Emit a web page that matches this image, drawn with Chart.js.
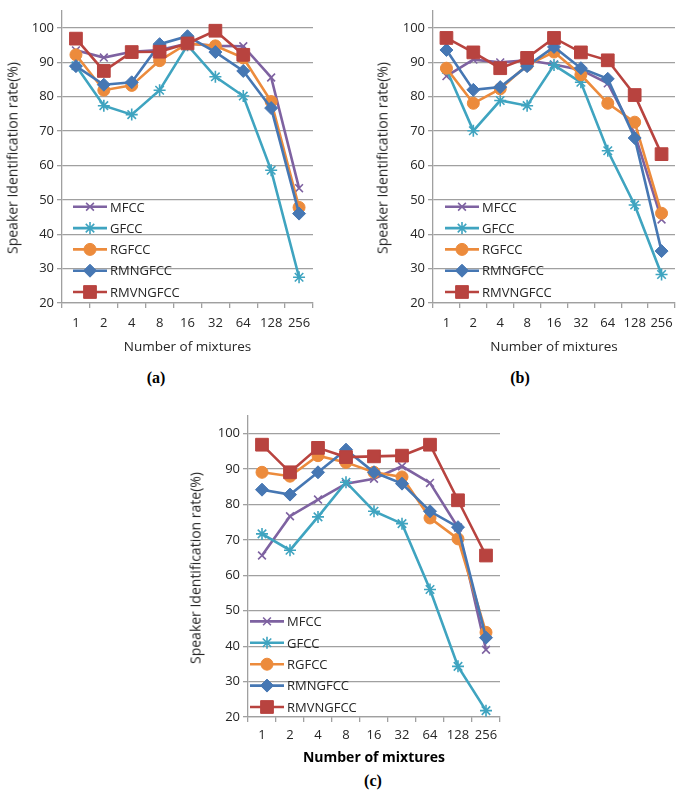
<!DOCTYPE html>
<html>
<head>
<meta charset="utf-8">
<script src="https://cdn.jsdelivr.net/npm/chart.js@4"></script>
<style>
html, body { margin: 0; padding: 0; background: #fff; overflow: hidden; width: 685px; height: 794px; }
canvas { position: absolute; }
.cap { position: absolute; font: bold 16px "Liberation Serif", "DejaVu Serif", serif; color: #000; transform: translate(-50%, -50%); }
.ytitle { position: absolute; white-space: nowrap; font: 14px "Open Sans", "Liberation Sans", sans-serif; color: #262626; transform: translate(-50%, -50%) rotate(-90deg); }
</style>
</head>
<body>
<canvas id="chartA" width="342" height="359" style="left:0;top:0"></canvas>
<canvas id="chartB" width="343" height="359" style="left:342px;top:0"></canvas>
<canvas id="chartC" width="340" height="370" style="left:170px;top:400px"></canvas>
<div class="ytitle" style="left:12px;top:158px">Speaker Identification rate(%)</div>
<div class="ytitle" style="left:382px;top:158px">Speaker Identification rate(%)</div>
<div class="ytitle" style="left:195px;top:568px">Speaker Identification rate(%)</div>
<div class="cap" style="left:156px;top:378px">(a)</div>
<div class="cap" style="left:520px;top:378px">(b)</div>
<div class="cap" style="left:373px;top:781px">(c)</div>
<script>
const mixtures = ["1", "2", "4", "8", "16", "32", "64", "128", "256"];
const seriesNames = ["MFCC", "GFCC", "RGFCC", "RMNGFCC", "RMVNGFCC"];
const yMin = 20, yMax = 100, yStep = 10;

// (a)
const mfccA     = [93.5, 91.4, 93.1, 93.6, 95.5, 94.8, 94.7, 85.6, 53.4];
const gfccA     = [89.0, 77.4, 74.8, 81.9, 95.0, 85.8, 80.2, 58.6, 27.5];
const rgfccA    = [92.2, 81.9, 83.3, 90.5, 95.5, 94.8, 91.3, 78.6, 47.8];
const rmngfccA  = [88.9, 83.5, 84.2, 95.3, 97.6, 93.0, 87.5, 76.7, 46.0];
const rmvngfccA = [96.9, 87.5, 93.0, 93.1, 95.5, 99.2, 92.2, null, null];

// (b)
const mfccB     = [86.0, 90.8, 90.0, 90.6, 89.4, 87.8, 83.9, 69.2, 44.3];
const gfccB     = [88.0, 70.1, 78.9, 77.4, 89.2, 84.2, 64.3, 48.5, 28.3];
const rgfccB    = [88.3, 78.1, 82.3, 89.2, 93.0, 86.4, 78.1, 72.6, 46.1];
const rmngfccB  = [93.6, 82.0, 82.8, 88.9, 94.5, 88.3, 85.2, 68.0, 35.1];
const rmvngfccB = [97.1, 92.9, 88.3, 91.3, 97.1, 92.9, 90.6, 80.5, 63.3];

// (c)
const mfccC     = [65.6, 76.7, 81.4, 85.9, 87.3, 90.8, 86.1, 73.5, 39.0];
const gfccC     = [71.7, 67.1, 76.5, 86.3, 78.1, 74.6, 56.0, 34.3, 21.8];
const rgfccC    = [89.1, 88.0, 93.8, 91.9, 89.1, 87.8, 76.2, 70.3, 43.9];
const rmngfccC  = [84.2, 82.8, 89.1, 95.5, 89.1, 85.9, 78.1, 73.6, 42.4];
const rmvngfccC = [96.9, 89.1, 96.0, 93.4, 93.6, 93.8, 96.9, 81.2, 65.6];

// series look
const lineColors = ["#7E62A1", "#3FA4C0", "#EC8B3C", "#4677B3", "#B8433F"];
const markerStyles = ["crossRot", "star", "circle", "rectRot", "rect"];
const markerRadius = [5.5, 6, 6, 6.5, 9];
const gridColor = "#A0A0A0";
const textColor = "#262626";
const fontFamily = "'Open Sans', 'Liberation Sans', sans-serif";

// legend drawn inside the plot, lower left
const insideLegend = {
    id: "insideLegend",
    afterDraw(chart, args, opts) {
        const ctx = chart.ctx;
        const area = chart.chartArea;
        const n = chart.data.datasets.length;
        ctx.save();
        chart.data.datasets.forEach((ds, i) => {
            const y = area.bottom - opts.bottom - (n - 1 - i) * opts.spacing;
            const x0 = area.left + opts.left;
            ctx.strokeStyle = ds.borderColor;
            ctx.fillStyle = ds.borderColor;
            ctx.lineWidth = ds.borderWidth;
            ctx.beginPath();
            ctx.moveTo(x0, y);
            ctx.lineTo(x0 + 34, y);
            ctx.stroke();
            ctx.lineWidth = ds.pointBorderWidth;
            Chart.helpers.drawPoint(ctx, {
                pointStyle: ds.pointStyle,
                radius: ds.pointRadius,
                rotation: 0,
                borderWidth: ds.pointBorderWidth
            }, x0 + 17, y);
            ctx.fillStyle = textColor;
            ctx.font = "13px " + fontFamily;
            ctx.textBaseline = "middle";
            ctx.textAlign = "left";
            ctx.fillText(ds.label, x0 + 37, y + 1);
        });
        ctx.restore();
    }
};

function makeChart(id, values, cfg) {
    const datasets = values.map((vals, i) => ({
        label: seriesNames[i],
        data: vals,
        borderColor: lineColors[i],
        backgroundColor: lineColors[i],
        borderWidth: 2.6,
        pointStyle: markerStyles[i],
        pointRadius: markerRadius[i],
        pointHoverRadius: markerRadius[i],
        pointBorderWidth: (i < 2) ? 1.6 : 1,
        order: values.length - 1 - i,
        tension: 0
    }));
    new Chart(document.getElementById(id), {
        type: "line",
        data: { labels: mixtures, datasets: datasets },
        options: {
            responsive: false,
            animation: false,
            events: [],
            layout: { padding: cfg.padding },
            plugins: {
                legend: { display: false },
                tooltip: { enabled: false },
                insideLegend: cfg.legend
            },
            scales: {
                x: {
                    offset: true,
                    grid: { offset: true, drawOnChartArea: false, drawTicks: true, tickLength: 5, color: gridColor, lineWidth: 1.3 },
                    border: { color: gridColor, width: 1.3 },
                    ticks: { color: textColor, font: { family: fontFamily, size: 13 }, padding: cfg.xPad, maxRotation: 0, autoSkip: false },
                    title: {
                        display: true,
                        text: "Number of mixtures",
                        color: cfg.titleBold ? "#000" : textColor,
                        font: { family: fontFamily, size: cfg.titleBold ? 14 : 13.5, weight: cfg.titleBold ? "bold" : "normal" }
                    },
                    afterFit: (s) => { s.height = cfg.xHeight; }
                },
                y: {
                    min: yMin,
                    max: yMax + 5,
                    ticks: { stepSize: yStep, color: textColor, font: { family: fontFamily, size: 13 }, padding: 3 },
                    grid: { color: gridColor, lineWidth: 1.3, tickLength: 5 },
                    border: { color: gridColor, width: 1.3 },
                    afterBuildTicks: (s) => { s.ticks = s.ticks.filter(t => t.value <= yMax); },
                    afterFit: (s) => { s.width = cfg.yWidth; }
                }
            }
        },
        plugins: [insideLegend]
    });
}

makeChart("chartA", [mfccA, gfccA, rgfccA, rmngfccA, rmvngfccA], {
    padding: { left: 0, right: 29, top: 1, bottom: 0 },
    yWidth: 62, xHeight: 56, xPad: 7,
    legend: { left: 11, bottom: 11, spacing: 21.3 }
});
makeChart("chartB", [mfccB, gfccB, rgfccB, rmngfccB, rmvngfccB], {
    padding: { left: 29, right: 0, top: 1, bottom: 0 },
    yWidth: 62, xHeight: 56, xPad: 7,
    legend: { left: 12, bottom: 11, spacing: 21.3 }
});
makeChart("chartC", [mfccC, gfccC, rgfccC, rmngfccC, rmvngfccC], {
    padding: { left: 14, right: 10, top: 16, bottom: 0 },
    yWidth: 64, xHeight: 53, xPad: 5, titleBold: true,
    legend: { left: 2, bottom: 10, spacing: 21.4 }
});
</script>
</body>
</html>
